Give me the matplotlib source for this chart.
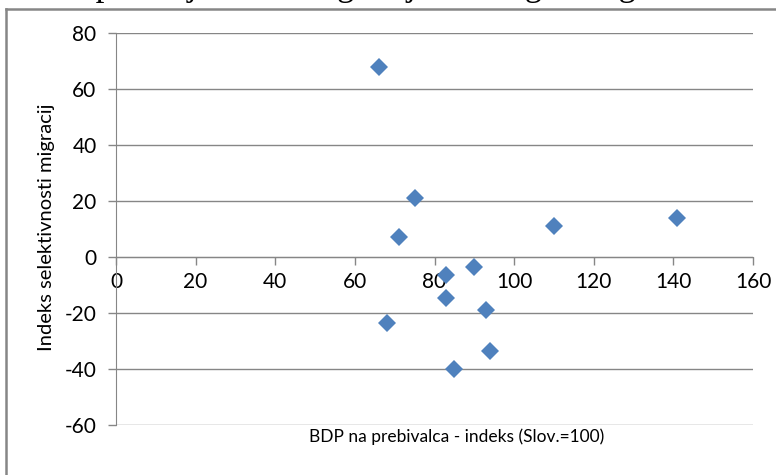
import matplotlib.pyplot as plt
import numpy as np

# BDP na prebivalca (indeks) in indeks selektivnosti migracij
bdp = [66, 75, 71, 110, 141, 83, 90, 83, 93, 68, 94, 85]
selektivnost = [68, 21, 7, 11, 14, -6.5, -3.5, -14.8, -19, -23.5, -33.5, -40]

x_ticks = np.arange(0, 161, 20)
y_ticks = np.arange(-60, 81, 20)

plt.rcParams['font.family'] = ['Lato', 'DejaVu Sans']
plt.rcParams['axes.unicode_minus'] = False

fig = plt.figure(figsize=(7.76, 4.75), dpi=100)
W, H = 776, 475

# okvir grafa (viden le levi in zgornji rob)
fig.add_artist(plt.Line2D([6 / W, 6 / W], [0, 1 - 9 / H], color='#868686', lw=1.8))
fig.add_artist(plt.Line2D([6 / W, 1], [1 - 9 / H, 1 - 9 / H], color='#868686', lw=1.8))

# odrezan naslov nad grafom
fig.text(725 / W, 1 + 5 / H, '2. Skupna dejanska emigracija – zaloga emigrantov',
         family='Liberation Serif', fontsize=25, ha='right', va='baseline')

ax = fig.add_axes([116 / W, 1 - 425 / H, (753 - 116) / W, (425 - 33) / H])

ax.set_xlim(0, 160)
ax.set_ylim(-60, 80)
ax.set_xticks(x_ticks)
ax.set_yticks(y_ticks)

for s in ['top', 'right']:
    ax.spines[s].set_visible(False)
ax.spines['bottom'].set_position(('data', 0))
ax.spines['bottom'].set_color('#868686')
ax.spines['left'].set_color('#868686')

ax.grid(axis='y', color='#868686', lw=1.0)
ax.set_axisbelow(True)

ax.tick_params(axis='both', colors='#868686', labelcolor='black', labelsize=15,
               length=6, width=1)
ax.tick_params(axis='y', pad=8)
ax.tick_params(axis='x', pad=5)

ax.plot(bdp, selektivnost, linestyle='none', marker='D', markersize=9.5,
        color='#4F81BD', markeredgewidth=0, zorder=5, clip_on=False)

fig.text(457 / W, 1 - 437 / H, 'BDP na prebivalca - indeks (Slov.=100)',
         fontsize=12.5, ha='center', va='center')
fig.text(47 / W, 1 - 227 / H, 'Indeks selektivnosti migracij',
         fontsize=14.5, ha='center', va='center', rotation=90)

fig.savefig('out.png', dpi=100)
